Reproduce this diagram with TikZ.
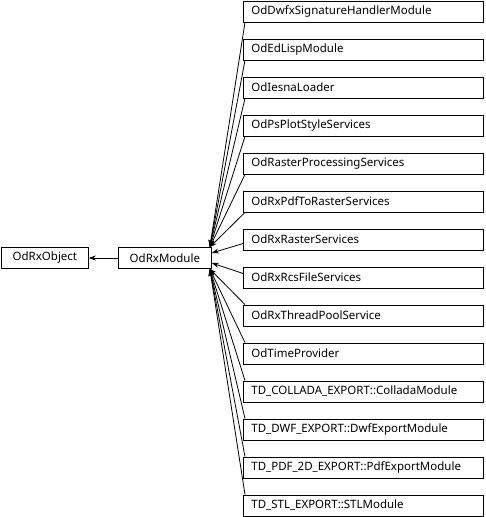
\documentclass[tikz,border=0pt]{standalone}
\usepackage{fontspec}
\setmainfont{Noto Sans}
\usetikzlibrary{arrows.meta}
\begin{document}
\begin{tikzpicture}[x=1pt, y=-1pt, >={Stealth[length=7pt,width=5pt]}, line width=0.8pt,
    cls/.style={draw, rectangle, minimum height=21pt, inner xsep=8pt, inner ysep=0pt,
      anchor=west, font=\fontsize{11.5}{14}\selectfont}]
    \useasboundingbox (0,0) rectangle (485,517);
    % base classes
    \node[cls, minimum width=87pt] (obj) at (1,258) {OdRxObject};
    \node[cls, minimum width=93pt] (mod) at (118,258) {OdRxModule};
    \draw[->] (mod) -- (obj);

    % derived modules
    \foreach \name [count=\i from 0] in {OdDwfxSignatureHandlerModule, OdEdLispModule,
        OdIesnaLoader, OdPsPlotStyleServices, OdRasterProcessingServices,
        OdRxPdfToRasterServices, OdRxRasterServices, OdRxRcsFileServices,
        OdRxThreadPoolService, OdTimeProvider, TD\_COLLADA\_EXPORT::ColladaModule,
        TD\_DWF\_EXPORT::DwfExportModule, TD\_PDF\_2D\_EXPORT::PdfExportModule,
        TD\_STL\_EXPORT::STLModule}
      \node[cls, text width=224pt, align=left] (d\i) at (243,11.5+38*\i) {\name};

    % inheritance edges, upper fan
    \foreach \i in {0,...,5}
      \draw[->] ([xshift=2pt]d\i.south west) -- ([xshift=-2pt]mod.north east);
    % middle
    \draw[->] ([yshift=-4pt]d6.west) -- ([yshift=5pt]mod.east);
    \draw[->] ([yshift=4pt]d7.west) -- ([yshift=-5pt]mod.east);
    % lower fan
    \foreach \i in {8,...,13}
      \draw[->] ([xshift=2pt]d\i.north west) -- ([xshift=-2pt]mod.south east);
\end{tikzpicture}
\end{document}
